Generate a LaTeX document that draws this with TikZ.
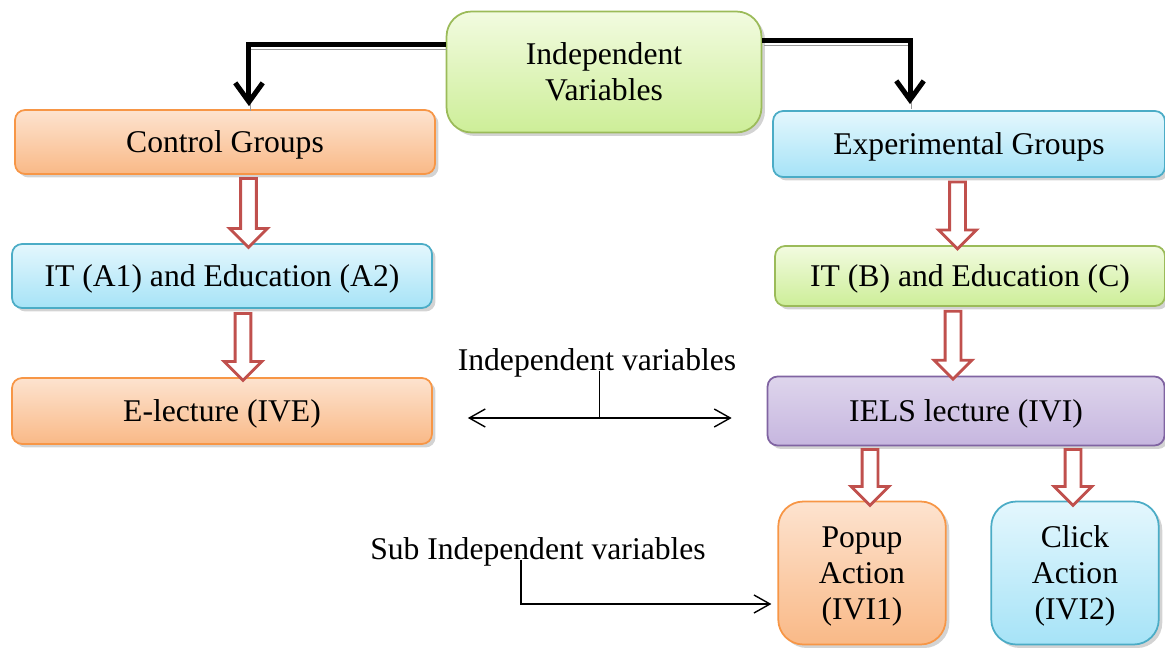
\documentclass[tikz,border=0pt]{standalone}
\usepackage{fontspec}
\setmainfont{Liberation Serif}
\usetikzlibrary{shapes.arrows,arrows.meta,shadows,calc}

\definecolor{orangeline}{HTML}{F79646}
\definecolor{orangetop}{HTML}{FDE3CF}
\definecolor{orangebot}{HTML}{F9B987}
\definecolor{blueline}{HTML}{4BACC6}
\definecolor{bluetop}{HTML}{E4F7FD}
\definecolor{bluebot}{HTML}{A6E3F7}
\definecolor{greenline}{HTML}{9BBB59}
\definecolor{greentop}{HTML}{F2FBE0}
\definecolor{greenbot}{HTML}{CDEE98}
\definecolor{purpleline}{HTML}{8064A2}
\definecolor{purpletop}{HTML}{DED5EC}
\definecolor{purplebot}{HTML}{C6B6DF}
\definecolor{arrowred}{HTML}{C0504D}

\begin{document}
\begin{tikzpicture}[
    x=0.02cm, y=-0.02cm,
    font=\rmfamily\fontsize{18pt}{20.5pt}\selectfont,
    box/.style={rectangle, rounded corners=0.2cm, line width=1pt, align=center, text depth=0.02em,
        drop shadow={shadow xshift=0.07cm, shadow yshift=-0.07cm, opacity=0.35}},
    orangebox/.style={box, draw=orangeline, top color=orangetop, bottom color=orangebot},
    bluebox/.style={box, draw=blueline, top color=bluetop, bottom color=bluebot},
    greenbox/.style={box, draw=greenline, top color=greentop, bottom color=greenbot},
    purplebox/.style={box, draw=purpleline, top color=purpletop, bottom color=purplebot},
    widebox/.style={minimum width=8.4cm, minimum height=1.28cm},
    smallbox/.style={rounded corners=0.5cm, minimum width=3.35cm, minimum height=2.86cm},
    fatarrow/.style={single arrow, draw=arrowred, fill=white, line width=1.6pt,
        inner xsep=0pt, inner ysep=0.13cm, single arrow head extend=0.22cm, rotate=-90},
    blackarrow/.style={-{Straight Barb[length=0.38cm,width=0.55cm]}, line width=0.1cm,
        preaction={draw=black!40, -, transform canvas={xshift=0.03cm, yshift=-0.1cm}}},
    thinarrow/.style={line width=0.8pt, >={Straight Barb[length=0.32cm,width=0.36cm]}}
]
\useasboundingbox (0,0) rectangle (1165,648);

% top node
\node[greenbox, rounded corners=0.5cm, minimum width=6.3cm, minimum height=2.42cm] (iv) at (604,72) {Independent\\Variables};

% control side
\node[orangebox, widebox] (cg) at (225,142) {Control Groups};
\node[bluebox, widebox] (ita) at (222,276) {IT (A1) and Education (A2)};
\node[orangebox, widebox, minimum height=1.32cm] (el) at (222,411) {E-lecture (IVE)};

% experimental side
\node[bluebox, minimum width=7.84cm, minimum height=1.32cm] (eg) at (969,144) {Experimental Groups};
\node[greenbox, minimum width=7.8cm, minimum height=1.2cm] (itb) at (970,276) {IT (B) and Education (C)};
\node[purplebox, minimum width=7.94cm, minimum height=1.38cm] (iels) at (966,411) {IELS lecture (IVI)};
\node[orangebox, smallbox] (popup) at (862,573) {Popup\\Action\\(IVI1)};
\node[bluebox, smallbox] (click) at (1075,573) {Click\\Action\\(IVI2)};

% labels
\node (ivlabel) at (597,363) {Independent variables};
\node (sublabel) at (538,552) {Sub Independent variables};

% black arrows from the top
\draw[blackarrow] ([yshift=0.56cm]iv.west) -| ([xshift=0.48cm,yshift=0.06cm]cg.north);
\draw[blackarrow] ([yshift=0.64cm]iv.east) -| ([xshift=-1.18cm,yshift=0.12cm]eg.north);

% hollow arrows
\path (cg.south) -- node[xshift=0.5cm, fatarrow, minimum height=1.38cm]{} (ita.north);
\path (ita.south) -- node[xshift=0.42cm, fatarrow, minimum height=1.34cm]{} (el.north);
\path (eg.south) -- node[xshift=-0.24cm, fatarrow, minimum height=1.34cm]{} (itb.north);
\path (itb.south) -- node[xshift=-0.3cm, fatarrow, minimum height=1.36cm]{} (iels.north);
\path (iels.south -| popup.north) -- node[xshift=0.16cm, fatarrow, minimum height=1.12cm]{} (popup.north);
\path (iels.south -| click.north) -- node[xshift=-0.04cm, fatarrow, minimum height=1.12cm]{} (click.north);

% thin arrows
\coordinate (mid) at ($(el.east)!0.5!(iels.west) + (0,7)$);
\draw[thinarrow, <->] ([xshift=0.7cm]el.east |- mid) -- ([xshift=-0.7cm]iels.west |- mid);
\draw[thinarrow] (ivlabel.base -| mid) -- (mid);
\draw[thinarrow, ->] ([xshift=-0.34cm]sublabel.base) |- ([xshift=-0.12cm,yshift=-0.62cm]popup.west);

\end{tikzpicture}
\end{document}
